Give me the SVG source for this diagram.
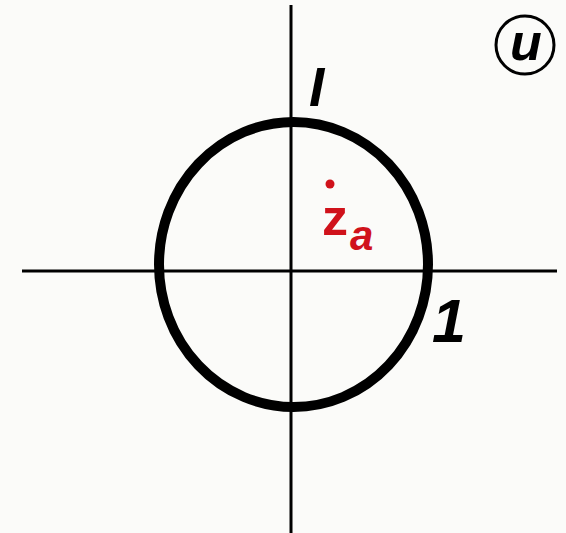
<svg xmlns="http://www.w3.org/2000/svg" width="566" height="533" viewBox="0 0 566 533">
<style>
.lbl{font-family:"Liberation Sans",Arial,sans-serif;font-weight:bold;font-style:italic;fill:#000}
.red{font-family:"Liberation Sans",Arial,sans-serif;font-weight:bold;fill:#d0121b}
</style>
<rect width="566" height="533" fill="#fbfbf9"/>
<g id="axes" stroke="#000" stroke-width="3">
<line x1="22" y1="271" x2="557" y2="271"/>
<line x1="291" y1="5" x2="291" y2="533"/>
</g>
<g id="unit-circle">
<ellipse cx="293.5" cy="264.5" rx="134.5" ry="142.5" fill="none" stroke="#000" stroke-width="10"/>
</g>
<g id="label-I"><text class="lbl" x="309" y="106" font-size="55">I</text></g>
<g id="label-1"><text class="lbl" x="432" y="342" font-size="61">1</text></g>
<g id="label-u">
<circle cx="525" cy="45" r="29" fill="none" stroke="#000" stroke-width="3"/>
<text class="lbl" x="510" y="60" font-size="52">u</text>
</g>
<g id="za">
<circle cx="330" cy="184" r="4.5" fill="#d0121b"/>
<text class="red" x="322" y="235" font-size="52">z</text>
<text class="red" x="350" y="250" font-size="42" font-style="italic">a</text>
</g>
</svg>
